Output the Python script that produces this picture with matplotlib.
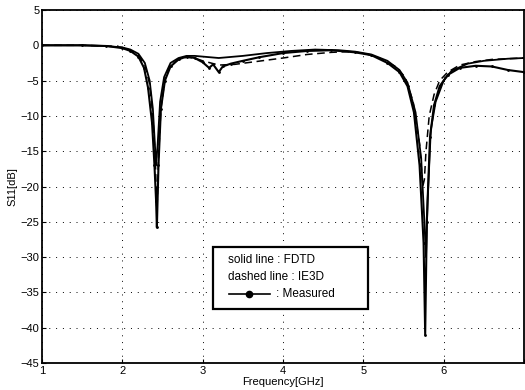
import matplotlib
matplotlib.use("Agg")
import matplotlib.pyplot as plt
from matplotlib.lines import Line2D
from matplotlib.patches import Rectangle

plt.rcParams['font.family'] = ['Liberation Sans', 'DejaVu Sans']

# ---------------------------------------------------------------- data
f_fdtd = [1.0, 1.5, 1.8, 2.0, 2.1, 2.2, 2.28, 2.34, 2.38, 2.41, 2.42, 2.44, 2.47, 2.52,
          2.6, 2.7, 2.8, 2.9, 3.0, 3.2, 3.5, 3.8, 4.1, 4.4, 4.7, 4.9, 5.1, 5.3, 5.45,
          5.55, 5.65, 5.72, 5.76, 5.78, 5.8, 5.84, 5.9, 6.0, 6.1, 6.3, 6.5, 6.8, 7.0]
s_fdtd = [0, 0, -0.1, -0.3, -0.6, -1.2, -2.5, -5, -9, -15, -17, -14, -8, -4.5,
          -2.5, -1.8, -1.5, -1.5, -1.6, -1.8, -1.5, -1.1, -0.8, -0.6, -0.7, -0.9, -1.3, -2.2, -3.5,
          -5.3, -9.5, -16, -25, -30, -22, -12, -8, -5, -3.6, -2.6, -2.2, -1.9, -1.8]

f_ie3d = [1.0, 1.5, 1.8, 2.0, 2.1, 2.2, 2.28, 2.34, 2.38, 2.41, 2.43, 2.45, 2.48, 2.53,
          2.6, 2.7, 2.8, 2.9, 3.0, 3.2, 3.4, 3.6, 3.8, 4.0, 4.3, 4.6, 4.8, 5.0, 5.2, 5.4,
          5.52, 5.62, 5.7, 5.74, 5.76, 5.78, 5.82, 5.88, 5.95, 6.05, 6.2, 6.4, 6.6, 6.8, 7.0]
s_ie3d = [0, 0, -0.1, -0.3, -0.7, -1.4, -2.8, -5.5, -10, -16, -24, -16, -9, -4.8,
          -2.8, -2.0, -1.7, -1.8, -2.2, -2.8, -2.7, -2.4, -2.1, -1.8, -1.3, -1.0, -0.9, -1.1, -1.8, -3.0,
          -4.5, -8, -14, -20, -19, -15, -10, -7, -5, -3.8, -2.8, -2.3, -2.0, -1.9, -1.8]

f_meas = [1.0, 1.5, 1.8, 2.0, 2.1, 2.2, 2.27, 2.32, 2.37, 2.4, 2.42, 2.43, 2.45, 2.48,
          2.53, 2.6, 2.7, 2.8, 2.9, 3.0, 3.08, 3.13, 3.2, 3.25, 3.35, 3.5, 3.7, 4.0, 4.3,
          4.6, 4.9, 5.1, 5.3, 5.45, 5.55, 5.63, 5.7, 5.75, 5.77, 5.79, 5.83, 5.88, 5.95,
          6.05, 6.2, 6.4, 6.6, 6.8, 7.0]
s_meas = [0, 0, -0.1, -0.4, -0.8, -1.6, -3.2, -6, -11, -17, -22, -25.8, -17, -9,
          -5, -3, -2, -1.6, -1.8, -2.4, -3.2, -2.7, -3.8, -3.0, -2.6, -2.2, -1.7, -1.1, -0.8,
          -0.7, -1.0, -1.4, -2.5, -3.8, -5.8, -9.5, -17, -28, -41, -25, -13, -8.5, -5.8,
          -4.2, -3.2, -2.9, -3.0, -3.5, -3.8]

xticks = [1, 2, 3, 4, 5, 6, 7]
xticklabels = ["1", "2", "3", "4", "5", "6", ""]
yticks = [5, 0, -5, -10, -15, -20, -25, -30, -35, -40, -45]
legend_rows = ["solid line : FDTD", "dashed line : IE3D", ": Measured"]
# ----------------------------------------------------------------------------

fig = plt.figure(figsize=(5.25, 3.9), dpi=100)
ax = fig.add_axes([42 / 525, 27 / 390, 482 / 525, 353 / 390])

ax.plot(f_fdtd, s_fdtd, color="black", lw=1.3)
ax.plot(f_ie3d, s_ie3d, color="black", lw=1.1, ls=(0, (5, 3)))
ax.plot(f_meas, s_meas, color="black", lw=1.5, marker="o", ms=1)

ax.set_xlim(1, 7)
ax.set_ylim(-45, 5)
ax.set_xticks(xticks)
ax.set_xticklabels(xticklabels)
ax.set_yticks(yticks)
ax.tick_params(direction="in", labelsize=8, length=3, pad=2)
ax.grid(True, color="black", ls=(0, (1, 6)), lw=0.7)
for sp in ax.spines.values():
    sp.set_linewidth(1.3)

ax.set_xlabel("Frequency[GHz]", fontsize=8, labelpad=1)
ax.set_ylabel("S11[dB]", fontsize=8, labelpad=2)

# legend box
ax.add_patch(Rectangle((0.355, 0.153), 0.321, 0.176, transform=ax.transAxes,
                       facecolor="white", edgecolor="black", lw=1.6, zorder=5))
ax.text(0.385, 0.292, legend_rows[0], transform=ax.transAxes, fontsize=8.5,
        va="center", ha="left", zorder=6)
ax.text(0.385, 0.243, legend_rows[1], transform=ax.transAxes, fontsize=8.5,
        va="center", ha="left", zorder=6)
ax.add_line(Line2D([0.387, 0.43, 0.472], [0.196, 0.196, 0.196], transform=ax.transAxes,
                   color="black", lw=1.2, marker="o", ms=4.5, markevery=[1], zorder=6))
ax.text(0.485, 0.196, legend_rows[2], transform=ax.transAxes, fontsize=8.5,
        va="center", ha="left", zorder=6)

fig.savefig("out.png", dpi=100)
